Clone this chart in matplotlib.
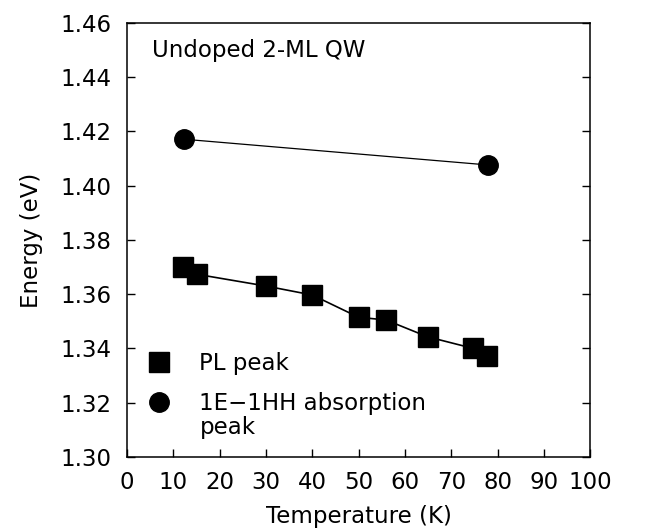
import matplotlib
matplotlib.use("Agg")
import matplotlib.pyplot as plt
from matplotlib.lines import Line2D

# PL peak energies vs temperature
pl_temp = [12, 15.2, 30, 40, 50, 55.9, 64.9, 74.8, 77.8]
pl_energy = [1.3701, 1.3673, 1.3630, 1.3597, 1.3515, 1.3505, 1.3443, 1.3400, 1.3372]

# 1E-1HH absorption peak
abs_temp = [12.2, 78.0]
abs_energy = [1.4171, 1.4076]

xticks = [0, 10, 20, 30, 40, 50, 60, 70, 80, 90, 100]
yticks = [1.30, 1.32, 1.34, 1.36, 1.38, 1.40, 1.42, 1.44, 1.46]

plt.rcParams['font.family'] = ['DejaVu Sans']
fs = 16.5

fig = plt.figure(figsize=(6.45, 5.29), dpi=100)
ax = fig.add_axes([0.197, 0.136, 0.718, 0.821])

ax.plot(pl_temp, pl_energy, color='black', lw=1.2, marker='s', ms=14, mfc='black', mec='black')
ax.plot(abs_temp, abs_energy, color='black', lw=0.9, marker='o', ms=14, mfc='black', mec='black')

ax.set_xlim(0, 100)
ax.set_ylim(1.30, 1.46)
ax.set_xticks(xticks)
ax.set_yticks(yticks)
ax.set_xticklabels([str(t) for t in xticks])
ax.set_yticklabels([f"{t:.2f}" for t in yticks])
ax.tick_params(direction='in', length=6, width=1, labelsize=fs, right=True, top=False)
ax.tick_params(axis='y', pad=11)
ax.tick_params(axis='x', pad=10)
for s in ax.spines.values():
    s.set_linewidth(1.1)

ax.set_xlabel("Temperature (K)", fontsize=fs, labelpad=8)
ax.set_ylabel("Energy (eV)", fontsize=fs, labelpad=13)

ax.text(0.053, 0.935, "Undoped 2-ML QW", transform=ax.transAxes, fontsize=fs, va='center', ha='left')

handles = [Line2D([], [], ls='none', marker='s', ms=14, color='black'),
           Line2D([], [], ls='none', marker='o', ms=14, color='black')]
ax.legend(handles, ["PL peak", "1E\u22121HH absorption"], loc='lower left',
          bbox_to_anchor=(0.0, 0.06), frameon=False, fontsize=fs,
          handletextpad=1.05, handlelength=1.4, labelspacing=0.72, borderaxespad=0.3)
ax.text(0.157, 0.068, "peak", transform=ax.transAxes, fontsize=fs, va='center', ha='left')

fig.savefig("out.png", dpi=100)
